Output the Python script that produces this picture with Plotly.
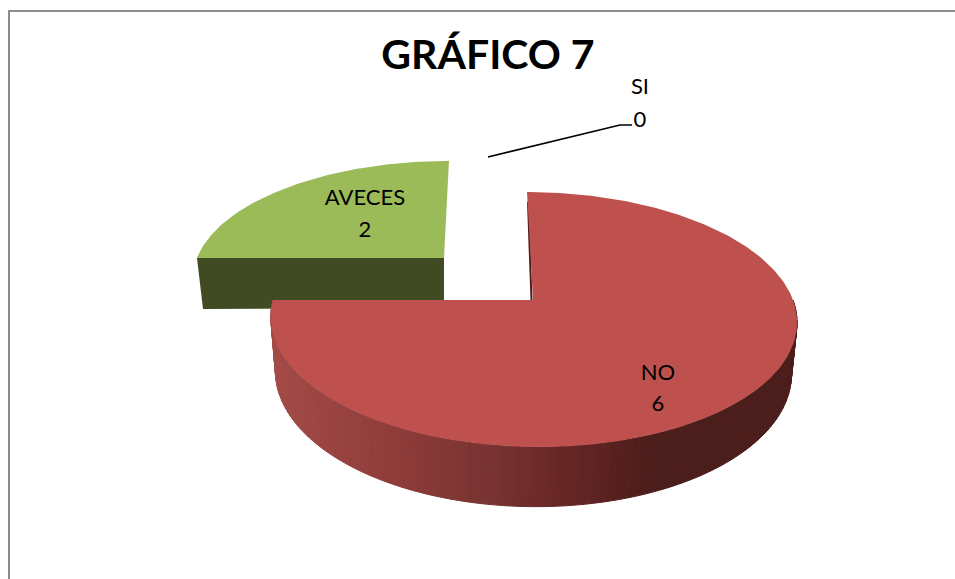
import numpy as np
import plotly.graph_objects as go

categories = ["SI", "NO", "AVECES"]
values = [0, 6, 2]
title_text = "GRÁFICO 7"

W, H = 955, 579
FONT = "Lato, Carlito, Calibri, sans-serif"
TOP_COLORS = {"NO": "#be504d", "AVECES": "#9bbb59"}
GREEN_WALL = "#404a23"
SLIVER = "#4b1e1c"
K = 0.153

# Projected pie geometry, one per exploded slice
GEOM = {
    "NO": dict(cx=533.0, cy=300.0, a=260.0, b=124.5, s=-6.0),
    "AVECES": dict(cx=444.0, cy=258.0, a=247.0, b=112.0, s=5.0),
}
NO_BOTTOM = dict(cx=533.0, cy=352.0, a=255.0, b=131.0, s=-3.0)
GREEN_DEPTH = 50.0

# Wall shading stops: screen x -> RGB
SHADE_X = [272, 400, 500, 555, 610, 650, 800]
SHADE_R = [164, 142, 118, 106, 90, 76, 75]
SHADE_G = [75, 60, 50, 40, 34, 30, 30]
SHADE_B = [71, 58, 49, 39, 33, 28, 28]


def project(theta_deg, g):
    t = np.radians(np.asarray(theta_deg, dtype=float))
    u, v = np.sin(t), np.cos(t)
    d = 1 + K * v
    return g["cx"] + g["a"] * u / d + g["s"] * v, g["cy"] - g["b"] * v / d


# Slice spans from the values (clockwise from 12 o'clock)
total = sum(values)
spans = {}
acc = 0.0
for c, val in zip(categories, values):
    spans[c] = (acc, acc + val / total * 360)
    acc += val / total * 360

fig = go.Figure()


def poly(xs, ys, color, line_w=0.0):
    fig.add_trace(go.Scatter(
        x=list(xs), y=list(ys), mode="lines", fill="toself", fillcolor=color,
        line=dict(color=color, width=line_w), hoverinfo="skip", showlegend=False))


# AVECES slice (behind)
g = GEOM["AVECES"]
a0, a1 = spans["AVECES"]
th = np.linspace(a0, a1, 90)
ax, ay = project(th, g)
lx, ly = project(a0, g)
poly([lx, g["cx"], g["cx"], lx + 6], [ly, g["cy"], g["cy"] + GREEN_DEPTH, ly + GREEN_DEPTH + 1], GREEN_WALL)
poly([g["cx"], *ax, g["cx"]], [g["cy"], *ay, g["cy"]], TOP_COLORS["AVECES"])

# NO slice wall
g = GEOM["NO"]
n0, n1 = spans["NO"]
edges = np.linspace(90, min(n1, 270), 121)
for t0, t1 in zip(edges[:-1], edges[1:]):
    x0, y0 = project(t0, g)
    x1, y1 = project(t1, g)
    x2, y2 = project(t1, NO_BOTTOM)
    x3, y3 = project(t0, NO_BOTTOM)
    xm = (x0 + x1) / 2
    col = "rgb(%d,%d,%d)" % (np.interp(xm, SHADE_X, SHADE_R),
                             np.interp(xm, SHADE_X, SHADE_G),
                             np.interp(xm, SHADE_X, SHADE_B))
    poly([x0, x1, x2, x3, x0], [y0, y1, y2, y3, y0], col, 1.0)

# NO slice cut-face sliver and top
tx, ty = project(n0, g)
fig.add_trace(go.Scatter(
    x=[tx + 1, g["cx"] - 1.5], y=[ty + 10, g["cy"]], mode="lines",
    line=dict(color=SLIVER, width=2), hoverinfo="skip", showlegend=False))
th = np.linspace(n0, n1, 300)
ax, ay = project(th, g)
poly([g["cx"], *ax, g["cx"]], [g["cy"], *ay, g["cy"]], TOP_COLORS["NO"])

# Leader line for the zero slice
fig.add_trace(go.Scatter(
    x=[488, 620, 632], y=[157, 125, 125], mode="lines",
    line=dict(color="black", width=1.6), hoverinfo="skip", showlegend=False))

# Data labels
LABEL_POS = {"SI": (640, 88, 121), "AVECES": (365, 199, 231), "NO": (658, 374, 405)}
for c, val in zip(categories, values):
    px, y1, y2 = LABEL_POS[c]
    fig.add_trace(go.Scatter(
        x=[px, px], y=[y1, y2], mode="text", text=[c, str(val)],
        textposition="middle center",
        textfont=dict(family=FONT, size=22, color="black"),
        hoverinfo="skip", showlegend=False))

fig.update_layout(
    width=W, height=H, margin=dict(l=0, r=0, t=0, b=0),
    paper_bgcolor="white", plot_bgcolor="white", showlegend=False,
    title=dict(text="<b>%s</b>" % title_text, x=488 / W, xanchor="center",
               y=1 - 55 / H, yanchor="middle",
               font=dict(family=FONT, size=41, color="black")),
    xaxis=dict(range=[0, W], visible=False, fixedrange=True),
    yaxis=dict(range=[H, 0], visible=False, fixedrange=True),
    shapes=[dict(type="rect", xref="x", yref="y", x0=9, y0=11, x1=W + 20, y1=H + 20,
                 line=dict(color="#8c8c8c", width=2), layer="below")],
)
fig.write_html("out.html", config=dict(displayModeBar=False),
               post_script="document.body.style.margin='0';document.body.style.overflow='hidden';")
